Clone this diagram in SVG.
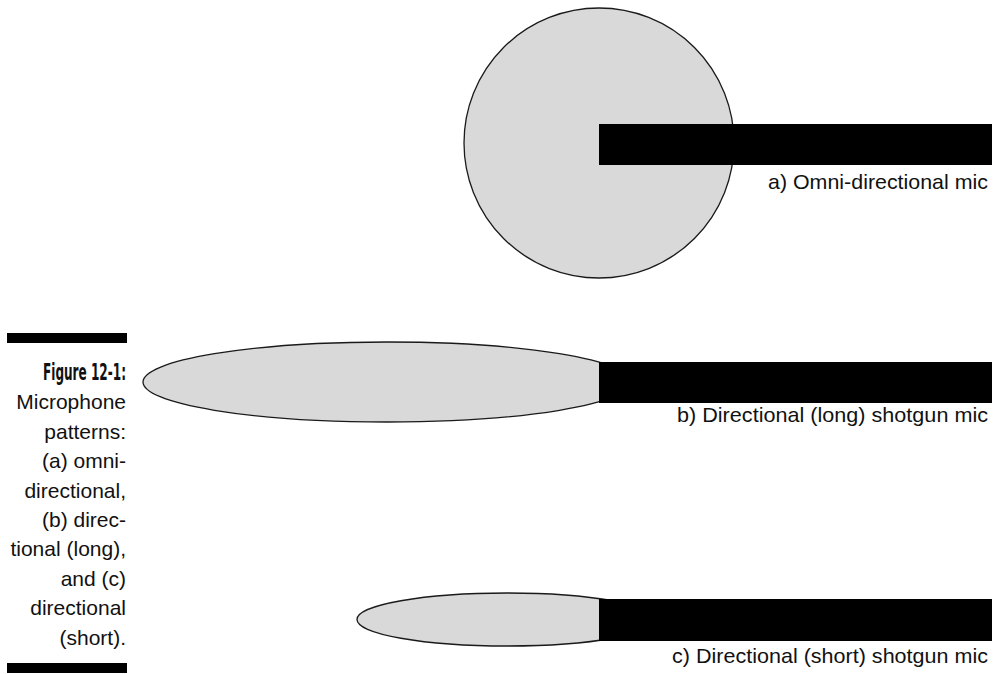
<svg xmlns="http://www.w3.org/2000/svg" width="994" height="674" viewBox="0 0 994 674">
<style>
.lobe{fill:#d9d9d9;stroke:#1a1a1a;stroke-width:1.3}
.mic{fill:#000}
.lbl{font-family:"Liberation Sans",Arial,sans-serif;font-size:21px;fill:#111;text-anchor:end}
.cap{font-family:"Liberation Sans",Arial,sans-serif;font-size:21px;fill:#111;text-anchor:end}
.capb{font-family:"Liberation Sans Narrow","DejaVu Sans Condensed","Liberation Sans",sans-serif;font-weight:bold;font-size:23px}
</style>
<rect width="994" height="674" fill="#fff"/>
<g id="caption">
<rect x="7" y="333" width="120" height="10" fill="#000"/>
<text class="cap capb" x="126" y="380" textLength="83" lengthAdjust="spacingAndGlyphs">Figure 12-1:</text>
<text class="cap" x="126" y="409.4">Microphone</text>
<text class="cap" x="126" y="438.8">patterns:</text>
<text class="cap" x="126" y="468.2">(a) omni-</text>
<text class="cap" x="126" y="497.6">directional,</text>
<text class="cap" x="126" y="527">(b) direc-</text>
<text class="cap" x="126" y="556.4">tional (long),</text>
<text class="cap" x="126" y="585.8">and (c)</text>
<text class="cap" x="126" y="615.2">directional</text>
<text class="cap" x="126" y="644.6">(short).</text>
<rect x="7" y="663" width="120" height="10" fill="#000"/>
</g>
<g id="mic-a">
<circle class="lobe" cx="599" cy="143" r="135"/>
<rect class="mic" x="599" y="124" width="393" height="41"/>
<text class="lbl" x="988" y="189" textLength="220" lengthAdjust="spacingAndGlyphs">a) Omni-directional mic</text>
</g>
<g id="mic-b">
<ellipse class="lobe" cx="387" cy="382" rx="244" ry="40"/>
<rect class="mic" x="599" y="362" width="393" height="41"/>
<text class="lbl" x="988" y="421.5" textLength="311" lengthAdjust="spacingAndGlyphs">b) Directional (long) shotgun mic</text>
</g>
<g id="mic-c">
<ellipse class="lobe" cx="507" cy="619.5" rx="150" ry="26.5"/>
<rect class="mic" x="599" y="599" width="393" height="42"/>
<text class="lbl" x="988" y="663" textLength="316" lengthAdjust="spacingAndGlyphs">c) Directional (short) shotgun mic</text>
</g>
</svg>
